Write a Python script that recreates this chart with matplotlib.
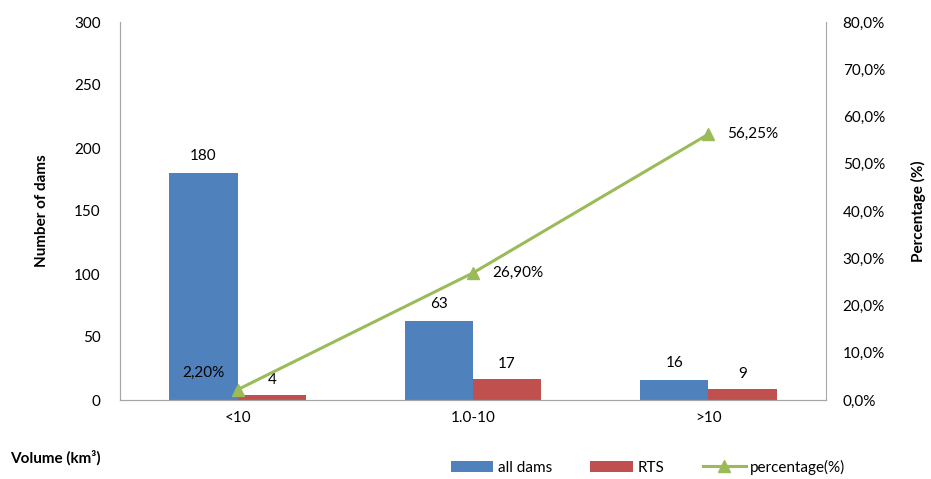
import numpy as np
import matplotlib
matplotlib.use("Agg")
import matplotlib.pyplot as plt
from matplotlib.ticker import FuncFormatter

plt.rcParams["font.family"] = ["Lato", "DejaVu Sans"]

categories = ["<10", "1.0-10", ">10"]
all_dams = [180, 63, 16]
rts = [4, 17, 9]
percentage = [2.20, 26.90, 56.25]
pct_labels = ["2,20%", "26,90%", "56,25%"]

blue = "#4F81BD"
red = "#C0504D"
green = "#9BBB59"
grey = "#A6A6A6"

fig = plt.figure(figsize=(9.31, 4.79), dpi=100)
ax = fig.add_axes([120 / 931, 1 - 400 / 479, 706 / 931, 378 / 479])
ax2 = ax.twinx()

x = np.arange(len(categories))
w = 0.29
b1 = ax.bar(x - w / 2, all_dams, w, color=blue, label="all dams")
b2 = ax.bar(x + w / 2, rts, w, color=red, label="RTS")
for xi, v in zip(x - w / 2, all_dams):
    ax.text(xi, v + 8, str(v), ha="center", va="bottom", fontsize=11)
for xi, v in zip(x + w / 2, rts):
    ax.text(xi, v + 6, str(v), ha="center", va="bottom", fontsize=11)

ax.set_xlim(-0.5, 2.5)
ax.set_ylim(0, 300)
ax.set_yticks(np.arange(0, 301, 50))
ax.set_xticks(x)
ax.set_xticklabels(categories)
ax.tick_params(axis="both", length=0, labelsize=11, pad=8)
ax.tick_params(axis="y", pad=14)
ax.set_ylabel("Number of dams", fontsize=11, fontweight="bold", labelpad=18)

line, = ax2.plot(x, np.array(percentage) / 100, color=green, lw=2.2,
                 marker="^", ms=8, label="percentage(%)")
ax2.set_ylim(0, 0.8)
ax2.set_yticks(np.arange(0, 0.81, 0.1))
ax2.yaxis.set_major_formatter(FuncFormatter(lambda v, p: f"{v * 100:.1f}%".replace(".", ",")))
ax2.tick_params(axis="y", length=0, labelsize=11, pad=12)
ax2.set_ylabel("Percentage (%)", fontsize=11, fontweight="bold", labelpad=19)

# percentage labels: first sits over the bar, the others to the right of the point
ax2.text(x[0] - w / 2, percentage[0] / 100 + 0.035, pct_labels[0], ha="center",
         va="center", fontsize=11)
for xi, v, s in zip(x[1:], percentage[1:], pct_labels[1:]):
    ax2.text(xi + 0.08, v / 100, s, ha="left", va="center", fontsize=11)

for a in (ax, ax2):
    a.spines["top"].set_visible(False)
    for s in ("left", "right", "bottom"):
        a.spines[s].set_color(grey)
ax.spines["right"].set_visible(False)

fig.text(10 / 931, 1 - 458 / 479, "Volume (km³)", fontsize=11,
         fontweight="bold", va="center")

fig.legend([b1, b2, line], ["all dams", "RTS", "percentage(%)"],
           loc="center", bbox_to_anchor=(648 / 931, 1 - 467 / 479), ncol=3,
           frameon=False, fontsize=11, handlelength=2.8, columnspacing=2.5,
           handletextpad=0.3)

fig.savefig("out.png", dpi=100)
